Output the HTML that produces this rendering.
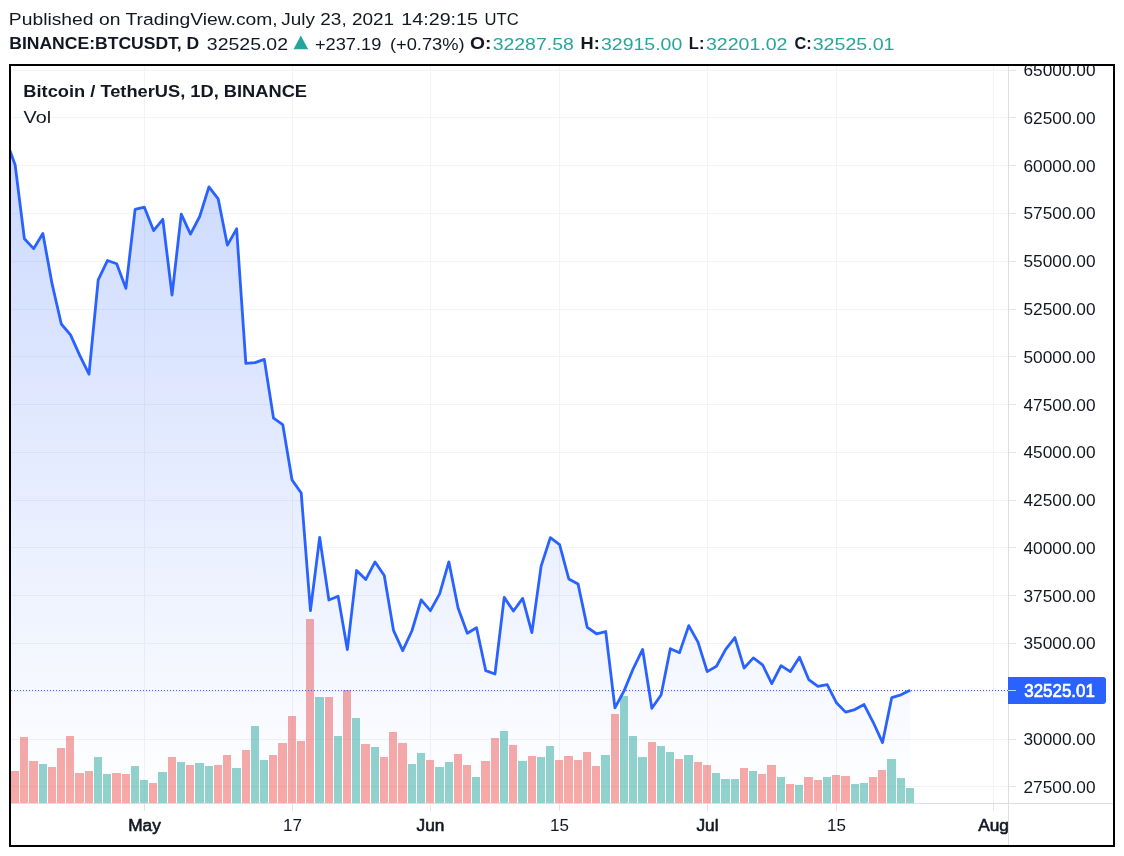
<!DOCTYPE html>
<html><head><meta charset="utf-8"><title>BTCUSDT</title>
<style>html,body{margin:0;padding:0;background:#fff;}body{width:1124px;height:856px;overflow:hidden;font-family:"Liberation Sans",sans-serif;}svg{display:block;position:absolute;left:0;top:0;will-change:transform;}text{font-family:"Liberation Sans",sans-serif;}</style>
</head><body>
<svg width="1124" height="856" viewBox="0 0 1124 856">
<defs>
<linearGradient id="ag" gradientUnits="userSpaceOnUse" x1="0" y1="66" x2="0" y2="803"><stop offset="0" stop-color="#2962ff" stop-opacity="0.27"/><stop offset="1" stop-color="#2962ff" stop-opacity="0"/></linearGradient>
<clipPath id="plot"><rect x="11" y="66" width="997" height="737"/></clipPath>
<clipPath id="inner"><rect x="11" y="66" width="1102" height="779"/></clipPath>
</defs>
<rect x="0" y="0" width="1124" height="856" fill="#fff"/>
<path d="M11 70.5H1008M11 117.5H1008M11 165.5H1008M11 213.5H1008M11 261.5H1008M11 309.5H1008M11 356.5H1008M11 404.5H1008M11 452.5H1008M11 500.5H1008M11 547.5H1008M11 595.5H1008M11 643.5H1008M11 691.5H1008M11 739.5H1008M11 786.5H1008M144.5 66V803M292.5 66V803M430.5 66V803M559.5 66V803M707.5 66V803M836.5 66V803M993.5 66V803" stroke="#2a2e39" stroke-opacity="0.06" stroke-width="1" fill="none" shape-rendering="crispEdges"/>
<g clip-path="url(#plot)" shape-rendering="crispEdges" fill-opacity="0.5">
<rect x="11" y="771" width="8" height="32" fill="#ef5350"/>
<rect x="20" y="737" width="8" height="66" fill="#ef5350"/>
<rect x="29" y="761" width="9" height="42" fill="#ef5350"/>
<rect x="39" y="764" width="8" height="39" fill="#26a69a"/>
<rect x="48" y="767" width="8" height="36" fill="#ef5350"/>
<rect x="57" y="748" width="8" height="55" fill="#ef5350"/>
<rect x="66" y="736" width="8" height="67" fill="#ef5350"/>
<rect x="75" y="773" width="9" height="30" fill="#ef5350"/>
<rect x="85" y="771" width="8" height="32" fill="#ef5350"/>
<rect x="94" y="757" width="8" height="46" fill="#26a69a"/>
<rect x="103" y="774" width="8" height="29" fill="#26a69a"/>
<rect x="112" y="773" width="9" height="30" fill="#ef5350"/>
<rect x="122" y="774" width="8" height="29" fill="#ef5350"/>
<rect x="131" y="766" width="8" height="37" fill="#26a69a"/>
<rect x="140" y="780" width="8" height="23" fill="#26a69a"/>
<rect x="149" y="783" width="8" height="20" fill="#ef5350"/>
<rect x="158" y="772" width="9" height="31" fill="#26a69a"/>
<rect x="168" y="757" width="8" height="46" fill="#ef5350"/>
<rect x="177" y="762" width="8" height="41" fill="#26a69a"/>
<rect x="186" y="765" width="8" height="38" fill="#ef5350"/>
<rect x="195" y="763" width="9" height="40" fill="#26a69a"/>
<rect x="205" y="766" width="8" height="37" fill="#26a69a"/>
<rect x="214" y="765" width="8" height="38" fill="#ef5350"/>
<rect x="223" y="755" width="8" height="48" fill="#ef5350"/>
<rect x="232" y="768" width="9" height="35" fill="#26a69a"/>
<rect x="242" y="750" width="8" height="53" fill="#ef5350"/>
<rect x="251" y="726" width="8" height="77" fill="#26a69a"/>
<rect x="260" y="760" width="8" height="43" fill="#26a69a"/>
<rect x="269" y="755" width="8" height="48" fill="#ef5350"/>
<rect x="278" y="743" width="9" height="60" fill="#ef5350"/>
<rect x="288" y="716" width="8" height="87" fill="#ef5350"/>
<rect x="297" y="741" width="8" height="62" fill="#ef5350"/>
<rect x="306" y="619" width="8" height="184" fill="#ef5350"/>
<rect x="315" y="697" width="9" height="106" fill="#26a69a"/>
<rect x="325" y="697" width="8" height="106" fill="#ef5350"/>
<rect x="334" y="736" width="8" height="67" fill="#26a69a"/>
<rect x="343" y="690" width="8" height="113" fill="#ef5350"/>
<rect x="352" y="718" width="8" height="85" fill="#26a69a"/>
<rect x="361" y="744" width="9" height="59" fill="#ef5350"/>
<rect x="371" y="747" width="8" height="56" fill="#26a69a"/>
<rect x="380" y="757" width="8" height="46" fill="#ef5350"/>
<rect x="389" y="732" width="8" height="71" fill="#ef5350"/>
<rect x="398" y="743" width="9" height="60" fill="#ef5350"/>
<rect x="408" y="764" width="8" height="39" fill="#26a69a"/>
<rect x="417" y="753" width="8" height="50" fill="#26a69a"/>
<rect x="426" y="760" width="8" height="43" fill="#ef5350"/>
<rect x="435" y="767" width="9" height="36" fill="#26a69a"/>
<rect x="445" y="762" width="8" height="41" fill="#26a69a"/>
<rect x="454" y="754" width="8" height="49" fill="#ef5350"/>
<rect x="463" y="765" width="8" height="38" fill="#ef5350"/>
<rect x="472" y="777" width="8" height="26" fill="#26a69a"/>
<rect x="481" y="761" width="9" height="42" fill="#ef5350"/>
<rect x="491" y="738" width="8" height="65" fill="#ef5350"/>
<rect x="500" y="731" width="8" height="72" fill="#26a69a"/>
<rect x="509" y="745" width="8" height="58" fill="#ef5350"/>
<rect x="518" y="761" width="9" height="42" fill="#26a69a"/>
<rect x="528" y="756" width="8" height="47" fill="#ef5350"/>
<rect x="537" y="757" width="8" height="46" fill="#26a69a"/>
<rect x="546" y="746" width="8" height="57" fill="#26a69a"/>
<rect x="555" y="760" width="8" height="43" fill="#ef5350"/>
<rect x="564" y="756" width="9" height="47" fill="#ef5350"/>
<rect x="574" y="760" width="8" height="43" fill="#ef5350"/>
<rect x="583" y="752" width="8" height="51" fill="#ef5350"/>
<rect x="592" y="766" width="8" height="37" fill="#ef5350"/>
<rect x="601" y="755" width="9" height="48" fill="#26a69a"/>
<rect x="611" y="714" width="8" height="89" fill="#ef5350"/>
<rect x="620" y="696" width="8" height="107" fill="#26a69a"/>
<rect x="629" y="736" width="8" height="67" fill="#26a69a"/>
<rect x="638" y="757" width="9" height="46" fill="#26a69a"/>
<rect x="648" y="742" width="8" height="61" fill="#ef5350"/>
<rect x="657" y="746" width="8" height="57" fill="#26a69a"/>
<rect x="666" y="752" width="8" height="51" fill="#26a69a"/>
<rect x="675" y="759" width="8" height="44" fill="#ef5350"/>
<rect x="684" y="755" width="9" height="48" fill="#26a69a"/>
<rect x="694" y="762" width="8" height="41" fill="#ef5350"/>
<rect x="703" y="765" width="8" height="38" fill="#ef5350"/>
<rect x="712" y="773" width="8" height="30" fill="#26a69a"/>
<rect x="721" y="779" width="9" height="24" fill="#26a69a"/>
<rect x="731" y="779" width="8" height="24" fill="#26a69a"/>
<rect x="740" y="768" width="8" height="35" fill="#ef5350"/>
<rect x="749" y="771" width="8" height="32" fill="#26a69a"/>
<rect x="758" y="774" width="8" height="29" fill="#ef5350"/>
<rect x="767" y="765" width="9" height="38" fill="#ef5350"/>
<rect x="777" y="777" width="8" height="26" fill="#26a69a"/>
<rect x="786" y="784" width="8" height="19" fill="#ef5350"/>
<rect x="795" y="785" width="8" height="18" fill="#26a69a"/>
<rect x="804" y="777" width="9" height="26" fill="#ef5350"/>
<rect x="814" y="780" width="8" height="23" fill="#ef5350"/>
<rect x="823" y="777" width="8" height="26" fill="#26a69a"/>
<rect x="832" y="775" width="8" height="28" fill="#ef5350"/>
<rect x="841" y="776" width="9" height="27" fill="#ef5350"/>
<rect x="851" y="784" width="8" height="19" fill="#26a69a"/>
<rect x="860" y="783" width="8" height="20" fill="#26a69a"/>
<rect x="869" y="777" width="8" height="26" fill="#ef5350"/>
<rect x="878" y="770" width="8" height="33" fill="#ef5350"/>
<rect x="887" y="759" width="9" height="44" fill="#26a69a"/>
<rect x="897" y="778" width="8" height="25" fill="#26a69a"/>
<rect x="906" y="788" width="8" height="15" fill="#26a69a"/>
</g>
<g clip-path="url(#plot)">
<path d="M5.94 139.68 L15.17 165.07 L24.40 238.78 L33.62 248.66 L42.85 233.52 L52.08 283.93 L61.30 324.00 L70.53 334.82 L79.76 355.41 L88.99 374.16 L98.21 279.84 L107.44 260.53 L116.67 263.70 L125.90 288.38 L135.12 209.26 L144.35 207.24 L153.58 230.59 L162.80 219.29 L172.03 295.16 L181.26 214.20 L190.49 234.12 L199.71 216.52 L208.94 186.94 L218.17 198.82 L227.40 245.16 L236.62 228.84 L245.85 363.37 L255.08 362.61 L264.30 359.35 L273.53 418.19 L282.76 424.53 L291.99 479.83 L301.21 492.98 L310.44 610.71 L319.67 537.38 L328.89 599.97 L338.12 596.19 L347.35 649.60 L356.58 570.46 L365.80 579.47 L375.03 561.94 L384.26 575.55 L393.49 630.33 L402.71 650.56 L411.94 630.76 L421.17 599.94 L430.39 610.65 L439.62 593.92 L448.85 561.85 L458.08 608.06 L467.30 633.21 L476.53 627.79 L485.76 670.67 L494.99 673.96 L504.21 597.37 L513.44 610.99 L522.67 598.44 L531.89 632.58 L541.12 566.17 L550.35 537.58 L559.58 544.70 L568.80 579.01 L578.03 583.90 L587.26 627.34 L596.49 633.77 L605.71 631.54 L614.94 707.83 L624.17 690.61 L633.39 668.28 L642.62 649.45 L651.85 708.29 L661.08 694.93 L670.30 648.74 L679.53 652.67 L688.76 625.59 L697.99 642.15 L707.21 671.59 L716.44 666.21 L725.67 649.34 L734.89 637.54 L744.12 668.05 L753.35 657.92 L762.58 664.76 L771.80 683.62 L781.03 665.65 L790.26 671.63 L799.48 657.18 L808.71 679.58 L817.94 686.40 L827.17 684.68 L836.39 702.65 L845.62 712.13 L854.85 709.53 L864.08 704.58 L873.30 722.53 L882.53 742.58 L891.76 697.59 L900.98 694.85 L910.21 690.32 L910.21 803 L5.94 803 Z" fill="url(#ag)" stroke="none"/>
<path d="M5.94 139.68 L15.17 165.07 L24.40 238.78 L33.62 248.66 L42.85 233.52 L52.08 283.93 L61.30 324.00 L70.53 334.82 L79.76 355.41 L88.99 374.16 L98.21 279.84 L107.44 260.53 L116.67 263.70 L125.90 288.38 L135.12 209.26 L144.35 207.24 L153.58 230.59 L162.80 219.29 L172.03 295.16 L181.26 214.20 L190.49 234.12 L199.71 216.52 L208.94 186.94 L218.17 198.82 L227.40 245.16 L236.62 228.84 L245.85 363.37 L255.08 362.61 L264.30 359.35 L273.53 418.19 L282.76 424.53 L291.99 479.83 L301.21 492.98 L310.44 610.71 L319.67 537.38 L328.89 599.97 L338.12 596.19 L347.35 649.60 L356.58 570.46 L365.80 579.47 L375.03 561.94 L384.26 575.55 L393.49 630.33 L402.71 650.56 L411.94 630.76 L421.17 599.94 L430.39 610.65 L439.62 593.92 L448.85 561.85 L458.08 608.06 L467.30 633.21 L476.53 627.79 L485.76 670.67 L494.99 673.96 L504.21 597.37 L513.44 610.99 L522.67 598.44 L531.89 632.58 L541.12 566.17 L550.35 537.58 L559.58 544.70 L568.80 579.01 L578.03 583.90 L587.26 627.34 L596.49 633.77 L605.71 631.54 L614.94 707.83 L624.17 690.61 L633.39 668.28 L642.62 649.45 L651.85 708.29 L661.08 694.93 L670.30 648.74 L679.53 652.67 L688.76 625.59 L697.99 642.15 L707.21 671.59 L716.44 666.21 L725.67 649.34 L734.89 637.54 L744.12 668.05 L753.35 657.92 L762.58 664.76 L771.80 683.62 L781.03 665.65 L790.26 671.63 L799.48 657.18 L808.71 679.58 L817.94 686.40 L827.17 684.68 L836.39 702.65 L845.62 712.13 L854.85 709.53 L864.08 704.58 L873.30 722.53 L882.53 742.58 L891.76 697.59 L900.98 694.85 L910.21 690.32" fill="none" stroke="#2962ff" stroke-width="2.8" stroke-linejoin="round" stroke-linecap="butt"/>
</g>
<path d="M11 690.5H1008" stroke="#2962ff" stroke-width="1" stroke-dasharray="1 2" stroke-dashoffset="0" fill="none" shape-rendering="crispEdges"/>
<path d="M1008.5 66V845M11 803.5H1113" stroke="#dcdee3" stroke-width="1" fill="none" shape-rendering="crispEdges"/>
<path d="M1009 70.5H1016M1009 117.5H1016M1009 165.5H1016M1009 213.5H1016M1009 261.5H1016M1009 309.5H1016M1009 356.5H1016M1009 404.5H1016M1009 452.5H1016M1009 500.5H1016M1009 547.5H1016M1009 595.5H1016M1009 643.5H1016M1009 691.5H1016M1009 739.5H1016M1009 786.5H1016M144.5 804V811M292.5 804V811M430.5 804V811M559.5 804V811M707.5 804V811M836.5 804V811M993.5 804V811" stroke="#e2e4e8" stroke-width="1" fill="none" shape-rendering="crispEdges"/>
<g clip-path="url(#inner)" font-size="17.4" fill="#131722">
<text x="1023.5" y="76.0" textLength="72" lengthAdjust="spacingAndGlyphs">65000.00</text>
<text x="1023.5" y="123.8" textLength="72" lengthAdjust="spacingAndGlyphs">62500.00</text>
<text x="1023.5" y="171.6" textLength="72" lengthAdjust="spacingAndGlyphs">60000.00</text>
<text x="1023.5" y="219.4" textLength="72" lengthAdjust="spacingAndGlyphs">57500.00</text>
<text x="1023.5" y="267.2" textLength="72" lengthAdjust="spacingAndGlyphs">55000.00</text>
<text x="1023.5" y="314.9" textLength="72" lengthAdjust="spacingAndGlyphs">52500.00</text>
<text x="1023.5" y="362.7" textLength="72" lengthAdjust="spacingAndGlyphs">50000.00</text>
<text x="1023.5" y="410.5" textLength="72" lengthAdjust="spacingAndGlyphs">47500.00</text>
<text x="1023.5" y="458.3" textLength="72" lengthAdjust="spacingAndGlyphs">45000.00</text>
<text x="1023.5" y="506.1" textLength="72" lengthAdjust="spacingAndGlyphs">42500.00</text>
<text x="1023.5" y="553.9" textLength="72" lengthAdjust="spacingAndGlyphs">40000.00</text>
<text x="1023.5" y="601.6" textLength="72" lengthAdjust="spacingAndGlyphs">37500.00</text>
<text x="1023.5" y="649.4" textLength="72" lengthAdjust="spacingAndGlyphs">35000.00</text>
<text x="1023.5" y="697.2" textLength="72" lengthAdjust="spacingAndGlyphs">32500.00</text>
<text x="1023.5" y="745.0" textLength="72" lengthAdjust="spacingAndGlyphs">30000.00</text>
<text x="1023.5" y="792.8" textLength="72" lengthAdjust="spacingAndGlyphs">27500.00</text>
</g>
<path d="M1008 677H1103a3 3 0 0 1 3 3V701a3 3 0 0 1 -3 3H1008Z" fill="#2962ff"/>
<path d="M1008 690.5H1016" stroke="#c5d3ff" stroke-width="1" shape-rendering="crispEdges"/>
<text x="1024.3" y="696.9" font-size="18.2" stroke="#fff" stroke-width="0.7" fill="#fff" textLength="70.6" lengthAdjust="spacingAndGlyphs">32525.01</text>
<clipPath id="tax"><rect x="11" y="804" width="997" height="41"/></clipPath>
<g clip-path="url(#tax)" font-size="17" fill="#131722" text-anchor="middle">
<text x="144.5" y="831" stroke="#131722" stroke-width="0.6" font-size="17.3">May</text>
<text x="292.5" y="831">17</text>
<text x="430.5" y="831" stroke="#131722" stroke-width="0.6" font-size="17.3">Jun</text>
<text x="559.5" y="831">15</text>
<text x="707.5" y="831" stroke="#131722" stroke-width="0.6" font-size="17.3">Jul</text>
<text x="836.5" y="831">15</text>
<text x="993.5" y="831" stroke="#131722" stroke-width="0.6" font-size="17.3">Aug</text>
</g>
<rect x="10" y="65" width="1104" height="781" fill="none" stroke="#000" stroke-width="2" shape-rendering="crispEdges"/>
<text x="8.81" y="24.6" font-size="16.9" fill="#131722" textLength="268.95" lengthAdjust="spacingAndGlyphs">Published on TradingView.com,</text>
<text x="281.31" y="24.6" font-size="16.9" fill="#131722" textLength="112.81" lengthAdjust="spacingAndGlyphs">July 23, 2021</text>
<text x="401.24" y="24.6" font-size="16.9" fill="#131722" textLength="76.83" lengthAdjust="spacingAndGlyphs">14:29:15</text>
<text x="484.53" y="24.6" font-size="16.9" fill="#131722" textLength="34.15" lengthAdjust="spacingAndGlyphs">UTC</text>
<text x="9.21" y="49.2" font-size="16.9" font-weight="bold" fill="#131722" textLength="190.10" lengthAdjust="spacingAndGlyphs">BINANCE:BTCUSDT, D</text>
<text x="206.87" y="49.6" font-size="16.9" fill="#131722" textLength="81.13" lengthAdjust="spacingAndGlyphs">32525.02</text>
<text x="314.90" y="49.6" font-size="16.9" fill="#131722" textLength="66.49" lengthAdjust="spacingAndGlyphs">+237.19</text>
<text x="389.90" y="49.6" font-size="16.9" fill="#131722" textLength="74.68" lengthAdjust="spacingAndGlyphs">(+0.73%)</text>
<text x="469.90" y="49.2" font-size="16.9" font-weight="bold" fill="#131722" textLength="21.42" lengthAdjust="spacingAndGlyphs">O:</text>
<text x="492.69" y="49.6" font-size="16.9" fill="#26a69a" textLength="81.06" lengthAdjust="spacingAndGlyphs">32287.58</text>
<text x="580.60" y="49.2" font-size="16.9" font-weight="bold" fill="#131722" textLength="19.17" lengthAdjust="spacingAndGlyphs">H:</text>
<text x="600.98" y="49.6" font-size="16.9" fill="#26a69a" textLength="81.26" lengthAdjust="spacingAndGlyphs">32915.00</text>
<text x="688.86" y="49.2" font-size="16.9" font-weight="bold" fill="#131722" textLength="15.54" lengthAdjust="spacingAndGlyphs">L:</text>
<text x="705.98" y="49.6" font-size="16.9" fill="#26a69a" textLength="81.48" lengthAdjust="spacingAndGlyphs">32201.02</text>
<text x="794.38" y="49.2" font-size="16.9" font-weight="bold" fill="#131722" textLength="17.19" lengthAdjust="spacingAndGlyphs">C:</text>
<text x="812.68" y="49.6" font-size="16.9" fill="#26a69a" textLength="81.85" lengthAdjust="spacingAndGlyphs">32525.01</text>
<text x="23.30" y="96.7" font-size="16.6" font-weight="bold" fill="#131722" textLength="283.75" lengthAdjust="spacingAndGlyphs">Bitcoin / TetherUS, 1D, BINANCE</text>
<text x="23.55" y="122.7" font-size="17" fill="#131722" textLength="27.54" lengthAdjust="spacingAndGlyphs">Vol</text>
<path d="M293.5 49.3L300.8 35.5L308.2 49.3Z" fill="#26a69a"/>
</svg>
</body></html>
